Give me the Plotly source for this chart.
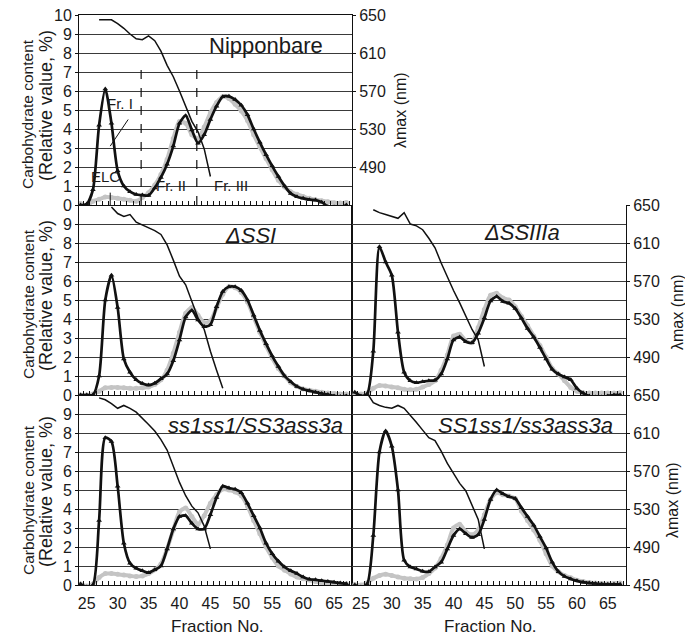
import plotly.graph_objects as go

# ---------------- data ----------------
fractions = list(range(24, 68))

nip_black = [0.0, 0.05, 0.8, 4.2, 6.1, 4.3, 1.8, 1.0, 0.7, 0.55, 0.52, 0.5, 0.9, 1.45, 2.15, 3.1,
             4.3, 4.7, 3.95, 3.25, 3.7, 4.5, 5.2, 5.7, 5.72, 5.55, 5.25, 4.75, 4.0, 3.3, 2.65, 2.05,
             1.5, 1.0, 0.6, 0.44, 0.35, 0.28, 0.26, 0.15, -0.08, -0.1, -0.12, 0.0]
nip_gray = [0.08, -0.03, 0.2, 0.3, 0.42, 0.4, 0.35, 0.3, 0.25, 0.2, 0.4, 0.65, 1.05, 1.6, 2.4, 3.5,
            4.4, 4.3, 3.7, 3.5, 4.1, 4.85, 5.4, 5.7, 5.6, 5.3, 4.95, 4.45, 3.7, 3.05, 2.45, 1.85,
            1.3, 0.95, 0.7, 0.56, 0.45, 0.35, 0.28, 0.22, 0.17, 0.12, 0.1, 0.13]
nip_lam_fr = list(range(27, 46))
nip_lam = [645, 645, 645, 641, 636, 630, 625, 624, 628, 623, 612, 597, 585, 570, 553, 538, 527, 509, 480]

dssi_black = [0.0, 0.0, 0.0, 1.0, 5.0, 6.3, 4.6, 1.9, 1.2, 0.8, 0.6, 0.52, 0.62, 0.85, 1.1, 1.8,
              2.9, 4.1, 4.45, 3.95, 3.6, 3.7, 4.65, 5.45, 5.7, 5.7, 5.5, 5.0, 4.2, 3.4, 2.7, 2.05,
              1.5, 1.0, 0.7, 0.45, 0.3, 0.22, 0.15, 0.08, 0.02, -0.05, -0.08, -0.05]
dssi_gray = [0.0, 0.0, 0.05, 0.2, 0.38, 0.4, 0.4, 0.38, 0.35, 0.35, 0.38, 0.42, 0.55, 0.8, 1.3, 2.2,
             3.3, 4.3, 4.6, 4.2, 3.8, 3.9, 4.6, 5.3, 5.7, 5.65, 5.4, 4.9, 4.1, 3.3, 2.6, 1.95,
             1.4, 1.0, 0.65, 0.45, 0.32, 0.25, 0.2, 0.15, 0.1, 0.08, 0.05, 0.05]
dssi_lam_fr = list(range(29, 48))
dssi_lam = [648, 641, 638, 640, 632, 629, 626, 623, 619, 608, 592, 575, 566, 548, 531, 519, 496, 476, 457]

dss3_black = [0.15, -0.05, 0.05, 2.3, 7.8, 7.0, 6.3, 3.3, 1.2, 0.75, 0.65, 0.7, 0.75, 0.78, 1.1, 1.9,
              2.9, 3.05, 2.8, 2.75, 3.25, 4.05, 4.95, 5.18, 4.92, 4.83, 4.55, 4.05, 3.5, 3.05, 2.5, 1.9,
              1.35, 1.1, 0.95, 0.8, 0.35, 0.1, -0.05, -0.1, -0.1, -0.05, 0.0, 0.0]
dss3_gray = [0.05, 0.05, 0.1, 0.35, 0.5, 0.48, 0.42, 0.38, 0.3, 0.27, 0.3, 0.42, 0.55, 0.75, 1.3, 2.1,
             3.1, 3.2, 2.85, 2.75, 3.55, 4.5, 5.25, 5.35, 5.1, 5.0, 4.65, 4.15, 3.65, 3.1, 2.6, 2.0,
             1.4, 1.1, 0.75, 0.4, 0.2, 0.12, 0.1, 0.1, 0.1, 0.1, 0.1, 0.12]
dss3_lam_fr = list(range(27, 46))
dss3_lam = [645, 642, 640, 638, 636, 642, 630, 628, 624, 615, 605, 589, 574, 560, 547, 533, 519, 508, 480]

ss1_black = [0.05, -0.1, 0.0, 3.4, 7.75, 7.55, 5.2, 2.2, 1.15, 0.88, 0.75, 0.65, 0.8, 1.0, 1.9, 2.95,
             3.6, 3.65, 3.25, 2.95, 2.95, 3.7, 4.6, 5.2, 5.1, 5.04, 4.85, 4.3, 3.65, 3.0, 2.2, 1.65,
             1.25, 0.95, 0.75, 0.6, 0.42, 0.3, 0.27, 0.23, 0.19, 0.15, 0.1, 0.07]
ss1_gray = [0.05, -0.05, 0.05, 0.4, 0.6, 0.6, 0.57, 0.53, 0.48, 0.45, 0.48, 0.6, 0.8, 1.1, 1.9, 2.9,
            3.85, 4.05, 3.6, 3.2, 3.65, 4.3, 4.75, 5.05, 5.0, 4.9, 4.7, 4.15, 3.4, 2.7, 2.0, 1.45,
            1.0, 0.78, 0.58, 0.42, 0.33, 0.26, 0.18, 0.12, 0.09, 0.07, 0.07, 0.07]
ss1_lam_fr = list(range(27, 46))
ss1_lam = [647, 645, 641, 636, 639, 636, 632, 626, 619, 612, 603, 592, 575, 558, 544, 533, 526, 512, 488]

SS1_black = [0.0, -0.1, 0.05, 2.6, 7.0, 8.1, 7.3, 5.0, 1.3, 0.95, 0.84, 0.72, 0.7, 0.95, 1.2, 1.9,
             2.6, 2.95, 2.7, 2.5, 2.65, 3.45, 4.5, 5.0, 4.8, 4.65, 4.55, 4.07, 3.6, 3.15, 2.55, 1.95,
             1.2, 0.7, 0.45, 0.32, 0.22, 0.15, 0.1, 0.08, 0.05, 0.04, 0.04, 0.04]
SS1_gray = [0.02, 0.0, 0.12, 0.35, 0.5, 0.57, 0.5, 0.42, 0.36, 0.33, 0.32, 0.4, 0.6, 0.9, 1.4, 2.1,
            3.0, 3.2, 2.8, 2.65, 2.9, 3.7, 4.5, 4.85, 4.75, 4.68, 4.55, 3.9, 3.4, 2.9, 2.35, 1.65,
            1.0, 0.7, 0.5, 0.38, 0.25, 0.18, 0.13, 0.1, 0.08, 0.07, 0.08, 0.1]
SS1_lam_fr = list(range(26, 46))
SS1_lam = [652, 642, 639, 637, 636, 639, 636, 629, 621, 613, 605, 602, 591, 578, 567, 557, 549, 534, 519, 488]

panel_titles = ["Nipponbare", "ΔSSI", "ΔSSIIIa", "ss1ss1/SS3ass3a", "SS1ss1/ss3ass3a"]
x_tick_vals = [25, 30, 35, 40, 45, 50, 55, 60, 65]
y_tick_vals = list(range(0, 11))
lam_tick_vals = [450, 490, 530, 570, 610, 650]

# ---------------- layout geometry (window pixels; page body has an 8px offset) ----------------
OFF = 8
W, H = 693 - OFF, 638 - OFF
ML, MR, MT, MB = 79 - OFF, 67, 15 - OFF, 53
PL, PT = 79, 15               # plot area top-left in window pixels
PW, PH = 547, 570


def fx(px):
    return (px - PL) / PW


def fy(py):
    return (PT + PH - py) / PH


XL = [0, fx(352)]
XR = [fx(352), 1]
TOP = [fy(205), 1]
MID = [fy(395), fy(205)]
BOT = [0, fy(395)]
RANGE_L = [23.75, 67.9]
RANGE_R = [23.55, 67.95]

FONT = "Liberation Sans, Arial, sans-serif"
BLACK = "#111111"
GRAY = "#c4c4c4"
GRID = "#3a3a3a"

panels = [
    ("x", "y", "y2", XL, TOP, RANGE_L, False, [str(v) for v in y_tick_vals], [490, 530, 570, 610, 650]),
    ("x2", "y3", "y4", XL, MID, RANGE_L, False, [str(v) for v in y_tick_vals[:-1]] + [""], []),
    ("x3", "y5", "y6", XR, MID, RANGE_R, False, None, [490, 530, 570, 610, 650]),
    ("x4", "y7", "y8", XL, BOT, RANGE_L, True, [str(v) for v in y_tick_vals[:-1]] + [""], []),
    ("x5", "y9", "y10", XR, BOT, RANGE_R, True, None, lam_tick_vals),
]
series = [
    (nip_black, nip_gray, nip_lam_fr, nip_lam),
    (dssi_black, dssi_gray, dssi_lam_fr, dssi_lam),
    (dss3_black, dss3_gray, dss3_lam_fr, dss3_lam),
    (ss1_black, ss1_gray, ss1_lam_fr, ss1_lam),
    (SS1_black, SS1_gray, SS1_lam_fr, SS1_lam),
]

fig = go.Figure()
layout = dict(
    width=W, height=H, margin=dict(l=ML, r=MR, t=MT, b=MB, autoexpand=False),
    paper_bgcolor="white", plot_bgcolor="white", showlegend=False,
    font=dict(family=FONT, size=16, color="#1a1a1a"),
)


def axkey(name):
    return ("xaxis" if name[0] == "x" else "yaxis") + name[1:]


for (xn, yn, y2n, xdom, ydom, xr, xlab, ytext, lamticks), (blk, gry, lfr, lam) in zip(panels, series):
    fig.add_trace(go.Scatter(x=fractions, y=gry, mode="lines+markers", xaxis=xn, yaxis=yn,
                             line=dict(color=GRAY, width=4, shape="spline", smoothing=0.7),
                             marker=dict(symbol="circle", size=5, color=GRAY), hoverinfo="skip"))
    fig.add_trace(go.Scatter(x=fractions, y=blk, mode="lines+markers", xaxis=xn, yaxis=yn,
                             line=dict(color=BLACK, width=2.7, shape="spline", smoothing=0.7),
                             marker=dict(symbol="triangle-up", size=5, color=BLACK), hoverinfo="skip"))
    fig.add_trace(go.Scatter(x=lfr, y=lam, mode="lines", xaxis=xn, yaxis=y2n,
                             line=dict(color=BLACK, width=1.5), hoverinfo="skip"))

    layout[axkey(xn)] = dict(
        domain=xdom, anchor=yn, range=xr, showgrid=False, zeroline=False, automargin=False,
        showline=True, linecolor=BLACK, linewidth=1, mirror=(xn == "x"),
        tickmode="array", tickvals=x_tick_vals, showticklabels=xlab, ticks="",
        ticklabelstandoff=4, ticklabeloverflow="allow", tickfont=dict(size=16),
        minor=dict(ticks="inside", ticklen=4, tickcolor=BLACK, tickmode="linear",
                   tick0=0.5, dtick=1, showgrid=False),
    )
    layout[axkey(yn)] = dict(
        domain=ydom, anchor=xn, range=[0, 10], zeroline=False, automargin=False,
        showgrid=True, gridcolor=GRID, gridwidth=1,
        showline=True, linecolor=BLACK, linewidth=1,
        tickmode="array", tickvals=y_tick_vals,
        ticktext=ytext if ytext else [""] * len(y_tick_vals),
        showticklabels=ytext is not None, ticklabeloverflow="allow",
        ticks="outside" if ytext else "", ticklen=3, tickcolor=BLACK,
        tickfont=dict(size=16),
    )
    layout[axkey(y2n)] = dict(
        overlaying=yn, side="right", anchor=xn, range=[450, 650], showgrid=False, zeroline=False,
        automargin=False, showline=True, linecolor=BLACK, linewidth=1,
        tickmode="array", tickvals=lamticks if lamticks else [450],
        showticklabels=bool(lamticks), ticklabeloverflow="allow",
        ticks="outside" if lamticks else "", ticklen=3,
        tickcolor=BLACK, tickfont=dict(size=16),
    )

fig.update_layout(**layout)

# ---------------- annotations ----------------
ann = []
title_pos = [(266, 45, False), (250, 235, True), (522, 233, True), (255, 425, True), (525, 425, True)]
for t, (px, py, it) in zip(panel_titles, title_pos):
    ann.append(dict(text=f"<i>{t}</i>" if it else t, x=fx(px), y=fy(py), xref="paper", yref="paper",
                    showarrow=False, font=dict(size=22, color="#1a1a1a"), xanchor="center", yanchor="middle"))

# left axis titles
for cy in (111, 301, 497):
    ann.append(dict(text="Carbohydrate content", x=fx(28), y=fy(cy + 3), xref="paper", yref="paper",
                    textangle=-90, showarrow=False, font=dict(size=15.5), xanchor="center", yanchor="middle"))
    ann.append(dict(text="(Relative value, %)", x=fx(46), y=fy(cy - 5), xref="paper", yref="paper",
                    textangle=-90, showarrow=False, font=dict(size=18), xanchor="center", yanchor="middle"))

# right axis titles
for px, py in ((401, 110), (677, 312), (672, 500)):
    ann.append(dict(text="λmax (nm)", x=fx(px), y=fy(py), xref="paper", yref="paper",
                    textangle=-90, showarrow=False, font=dict(size=16), xanchor="center", yanchor="middle"))

# x axis titles
for px in (217, 490):
    ann.append(dict(text="Fraction No.", x=fx(px), y=fy(626), xref="paper", yref="paper",
                    showarrow=False, font=dict(size=17), xanchor="center", yanchor="middle"))

# fraction labels (top panel, data coordinates)
for txt, xv, yv in (("Fr. I", 30.4, 5.35), ("Fr. II", 38.6, 1.05), ("Fr. III", 48.4, 1.05), ("ELC", 28.1, 1.5)):
    ann.append(dict(text=txt, x=xv, y=yv, xref="x", yref="y", showarrow=False,
                    font=dict(size=15, color="#1a1a1a"), xanchor="center", yanchor="middle"))

fig.update_layout(annotations=ann)

shapes = []
for xv in (33.8, 42.8):
    shapes.append(dict(type="line", xref="x", yref="y", x0=xv, x1=xv, y0=0, y1=7.3,
                       line=dict(color=BLACK, width=1.2, dash="dash")))
shapes.append(dict(type="line", xref="x", yref="y", x0=31.7, y0=4.5, x1=28.8, y1=3.1,
                   line=dict(color=BLACK, width=1)))
shapes.append(dict(type="line", xref="x", yref="y", x0=28.8, y0=0.65, x1=28.8, y1=0.0,
                   line=dict(color=BLACK, width=1)))
fig.update_layout(shapes=shapes)

fig.write_html("out.html")
